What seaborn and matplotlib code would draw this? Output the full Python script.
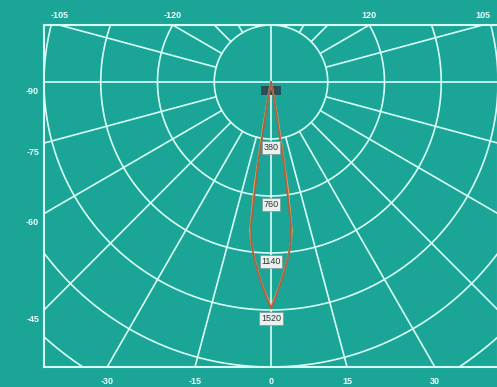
import numpy as np
import pandas as pd
import matplotlib
matplotlib.use("Agg")
import matplotlib.pyplot as plt
import seaborn as sns

# luminous intensity (cd) vs angle from nadir (deg), symmetric beam
angles = [0, 1, 2, 3, 4, 5, 6, 7, 8, 9, 10, 11, 12, 14, 16]
c0_cd = [1500, 1440, 1385, 1325, 1265, 1205, 1145, 1085, 1000, 720, 300, 60, 10, 0, 0]
c90_cd = [1510, 1450, 1390, 1330, 1270, 1210, 1150, 1080, 960, 560, 120, 20, 0, 0, 0]

ring_values = [0, 380, 760, 1140, 1520]
top_labels = [-105, -120, 120, 105]
left_labels = [-90, -75, -60, -45]
bottom_labels = [-30, -15, 0, 15, 30]

bg = "#1aa597"
grid_col = "#d6fff6"

sns.set_style("white")
plt.rcParams['font.family'] = ['Liberation Sans', 'DejaVu Sans']

fig = plt.figure(figsize=(4.97, 3.87), dpi=100)
fig.patch.set_facecolor(bg)
ax = fig.add_axes([44 / 497, 20 / 387, 454 / 497, 342 / 387])
ax.set_facecolor(bg)
xmin, xmax, ymin, ymax = -1520, 1520, -1900, 380
ax.set_xlim(xmin, xmax)
ax.set_ylim(ymin, ymax)
ax.set_xticks([])
ax.set_yticks([])
for sp in ax.spines.values():
    sp.set_color(grid_col)
    sp.set_linewidth(1.5)

# polar grid
t = np.linspace(0, 2 * np.pi, 400)
for r in [380, 760, 1140, 1520, 1900, 2280]:
    ax.plot(r * np.cos(t), r * np.sin(t), color=grid_col, lw=1.2, zorder=1)
for a in range(0, 360, 15):
    rad = np.deg2rad(a)
    r0 = 0 if a % 90 == 0 else 380
    ax.plot([r0 * np.sin(rad), 4000 * np.sin(rad)],
            [-r0 * np.cos(rad), -4000 * np.cos(rad)],
            color=grid_col, lw=1.2, zorder=1)

# curves
def to_xy(vals):
    full_a = [-a for a in angles[::-1]] + angles[1:]
    full_v = vals[::-1] + vals[1:]
    ar = np.deg2rad(full_a)
    v = np.array(full_v, dtype=float)
    return pd.DataFrame({"x": v * np.sin(ar), "y": -v * np.cos(ar)})

sns.lineplot(data=to_xy(c0_cd), x="x", y="y", sort=False, estimator=None,
             color="#f2a350", lw=1.4, ax=ax, zorder=3)
sns.lineplot(data=to_xy(c90_cd), x="x", y="y", sort=False, estimator=None,
             color="#a86048", lw=1.3, ax=ax, zorder=4)
ax.set_xlabel("")
ax.set_ylabel("")

# intensity labels
for v in ring_values:
    if v == 0:
        ax.text(0, -(v + 57), "   0   ", fontsize=5.5, color="#223840", ha="center", va="center", zorder=2,
                bbox=dict(boxstyle="square,pad=0.15", fc="#27505a", ec="none"))
    else:
        ax.text(0, -(v + 57), str(v), fontsize=6.5, color="#333333", ha="center", va="center", zorder=5,
                bbox=dict(boxstyle="square,pad=0.2", fc="#e8f1ee", ec="#7f9a96", lw=0.5))

# angle labels at the frame edges
def edge_hit(a):
    rad = np.deg2rad(a)
    dx, dy = np.sin(rad), -np.cos(rad)
    ts = []
    if dx > 1e-9:
        ts.append(xmax / dx)
    if dx < -1e-9:
        ts.append(xmin / dx)
    if dy > 1e-9:
        ts.append(ymax / dy)
    if dy < -1e-9:
        ts.append(ymin / dy)
    tt = min(ts)
    return tt * dx, tt * dy

lab_kw = dict(textcoords="offset pixels", fontsize=6.5, color="#eafffa", fontweight="bold",
              annotation_clip=False)
for a in top_labels:
    x, y = edge_hit(a)
    ax.annotate(str(a), (x, y), xytext=(0, 10), ha="center", va="center", **lab_kw)
for a in left_labels:
    x, y = edge_hit(a)
    ax.annotate(str(a), (x, y), xytext=(-5, -9), ha="right", va="center", **lab_kw)
for a in bottom_labels:
    x, y = edge_hit(a)
    ax.annotate(str(a), (x, y), xytext=(0, -15), ha="center", va="center", **lab_kw)

fig.savefig("out.png", dpi=100, facecolor=bg)
